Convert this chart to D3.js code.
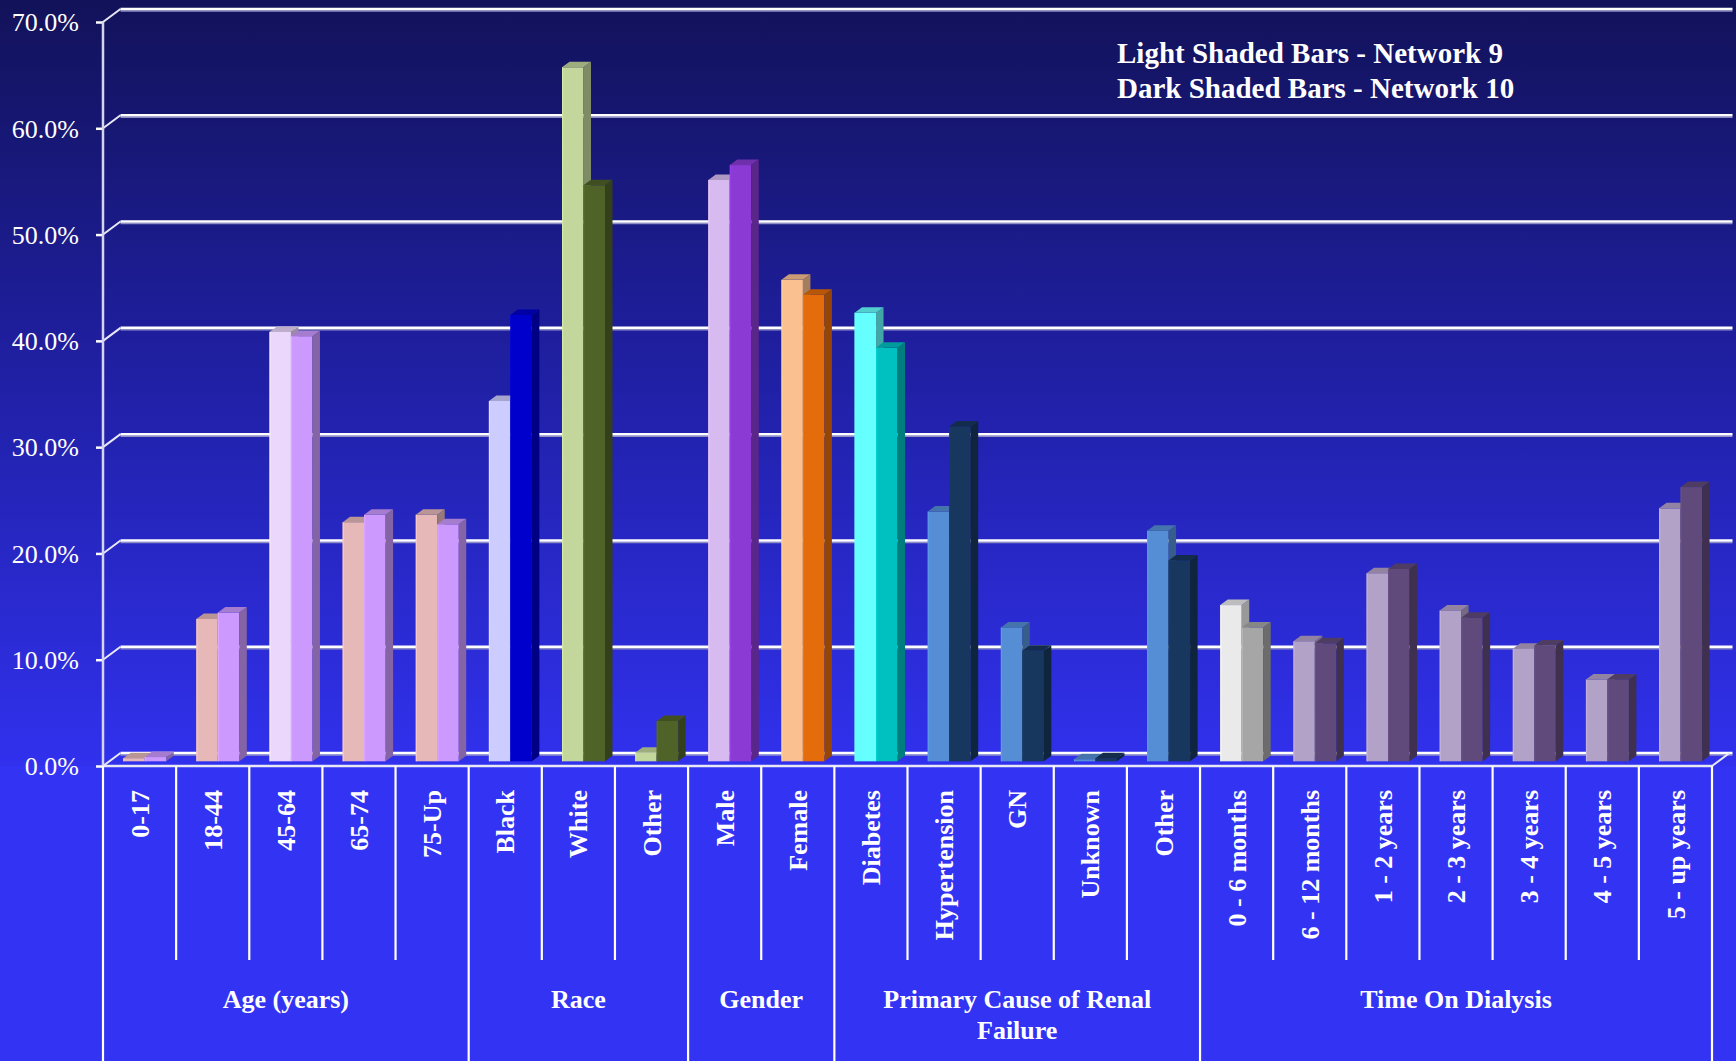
<!DOCTYPE html>
<html>
<head>
<meta charset="utf-8">
<script src="https://cdn.jsdelivr.net/npm/d3@7"></script>
<style>
  html, body { margin: 0; padding: 0; background: #3333f3; overflow: hidden; }
  svg { display: block; }
</style>
</head>
<body>
<svg id="chart" width="1736" height="1061"></svg>
<script>
// ---- data ----
const categories = ["0-17", "18-44", "45-64", "65-74", "75-Up",
  "Black", "White", "Other",
  "Male", "Female",
  "Diabetes", "Hypertension", "GN", "Unknown", "Other",
  "0 - 6 months", "6 - 12 months", "1 - 2 years", "2 - 3 years", "3 - 4 years", "4 - 5 years", "5 - up years"];

// Light shaded bars (Network 9), percent
const network9 = [0.3, 13.4, 40.4, 22.5, 23.2,
  33.9, 65.3, 0.8,
  54.7, 45.3,
  42.2, 23.5, 12.6, 0.2, 21.7,
  14.7, 11.3, 17.7, 14.2, 10.6, 7.7, 23.8];

// Dark shaded bars (Network 10), percent
const network10 = [0.4, 14.0, 40.0, 23.2, 22.3,
  42.0, 54.2, 3.8,
  56.1, 43.9,
  38.9, 31.5, 10.4, 0.3, 18.9,
  12.6, 11.1, 18.1, 13.5, 10.9, 7.7, 25.8];

const groupLabels = [["Age (years)"], ["Race"], ["Gender"], ["Primary Cause of Renal", "Failure"], ["Time On Dialysis"]];
const groupSizes = [5, 3, 2, 5, 7];

const yTicks = [0, 10, 20, 30, 40, 50, 60, 70];

const lightColors = ["#E6B9B8", "#E6B9B8", "#EBD7FC", "#E6B9B8", "#E6B9B8",
  "#CCCCFF", "#C3D69B", "#C3D69B",
  "#D7BBF0", "#FAC090",
  "#66FFFF", "#558ED5", "#558ED5", "#558ED5", "#558ED5",
  "#EAEAEA", "#B3A2C7", "#B3A2C7", "#B3A2C7", "#B3A2C7", "#B3A2C7", "#B3A2C7"];
const darkColors = ["#CC99FF", "#CC99FF", "#CC99FF", "#CC99FF", "#CC99FF",
  "#0000CC", "#4F6228", "#4F6228",
  "#8B3BD4", "#E46C0A",
  "#00C0C0", "#17375E", "#17375E", "#17375E", "#17375E",
  "#A6A6A6", "#604A7B", "#604A7B", "#604A7B", "#604A7B", "#604A7B", "#604A7B"];

const legendLines = ["Light Shaded Bars - Network 9", "Dark Shaded Bars - Network 10"];

// ---- layout ----
const W = 1736, H = 1061;
const left = 103, right = 1712;
const floorY = 766, topY = 22;
const DX = 17.5, DY = -13;          // depth of the back wall
const barDepthShift = 0.36;          // bars sit partway into the depth
const topDX = 7.5, topDY = -5.5;     // bar top/side depth
const minorBottom = 960;
const serif = "'Liberation Serif', 'Times New Roman', serif";

const svg = d3.select("#chart");

const x = d3.scaleBand().domain(d3.range(categories.length)).range([left, right]).padding(0);
const y = d3.scaleLinear().domain([0, 70]).range([floorY, topY]);

// background gradient
const defs = svg.append("defs");
const grad = defs.append("linearGradient").attr("id", "bg")
  .attr("gradientUnits", "userSpaceOnUse").attr("x1", 0).attr("y1", 0).attr("x2", 0).attr("y2", floorY);
grad.append("stop").attr("offset", 0).attr("stop-color", "#12125A");
grad.append("stop").attr("offset", 0.5).attr("stop-color", "#2020A6");
grad.append("stop").attr("offset", 1).attr("stop-color", "#3131EE");
svg.append("rect").attr("width", W).attr("height", floorY).attr("fill", "url(#bg)");
svg.append("rect").attr("y", floorY).attr("width", W).attr("height", H - floorY).attr("fill", "#3333F3");

// back wall gridlines
const grid = svg.append("g");
yTicks.forEach(t => {
  const gy = y(t) + DY;
  grid.append("line").attr("x1", left + DX).attr("x2", right + DX + 3)
    .attr("y1", gy + 2).attr("y2", gy + 2).attr("stroke", "#8f8fc8").attr("stroke-width", 1.5);
  grid.append("line").attr("x1", left + DX).attr("x2", right + DX + 3)
    .attr("y1", gy).attr("y2", gy).attr("stroke", "#ffffff").attr("stroke-width", 2.5);
  // side wall diagonal
  grid.append("line").attr("x1", left).attr("y1", y(t)).attr("x2", left + DX).attr("y2", gy)
    .attr("stroke", "#e8e8f4").attr("stroke-width", 2);
});

// floor edges
svg.append("line").attr("x1", right).attr("y1", floorY).attr("x2", right + DX).attr("y2", floorY + DY)
  .attr("stroke", "#e8e8f4").attr("stroke-width", 2);

// y axis
const yAxis = d3.axisLeft(y).tickValues(yTicks).tickSize(7).tickPadding(17)
  .tickFormat(d => d.toFixed(1) + "%");
const ay = svg.append("g").attr("transform", `translate(${left},0)`).call(yAxis);
ay.select(".domain").remove();
ay.selectAll(".tick line").attr("stroke", "#ffffff").attr("stroke-width", 2.5);
ay.selectAll(".tick text").attr("fill", "#ffffff").attr("font-family", serif)
  .attr("font-size", 26).attr("dy", "0.34em");
svg.append("line").attr("x1", left).attr("x2", left).attr("y1", topY).attr("y2", floorY)
  .attr("stroke", "#d4d4ec").attr("stroke-width", 2.5);

// bars
const bw = x.bandwidth();
const barOffset = bw * 0.276;
const barW = bw * 0.294;
const shiftY = DY * barDepthShift;

function drawBar(g, bx, value, color) {
  const yb = y(0) + shiftY;
  const yt = y(value) + shiftY;
  const c = d3.rgb(color);
  g.append("rect").attr("x", bx).attr("y", yt).attr("width", barW).attr("height", yb - yt)
    .attr("fill", c.formatHex());
  g.append("line").attr("x1", bx + 0.6).attr("x2", bx + 0.6).attr("y1", yt).attr("y2", yb)
    .attr("stroke", c.brighter(0.35).formatHex()).attr("stroke-width", 1.2).attr("opacity", 0.7);
  g.append("polygon").attr("points", [
    [bx + barW, yb], [bx + barW + topDX, yb + topDY], [bx + barW + topDX, yt + topDY], [bx + barW, yt]
  ].map(p => p.join(",")).join(" ")).attr("fill", c.darker(1.2).formatHex());
  g.append("polygon").attr("points", [
    [bx, yt], [bx + topDX, yt + topDY], [bx + barW + topDX, yt + topDY], [bx + barW, yt]
  ].map(p => p.join(",")).join(" ")).attr("fill", c.darker(0.6).formatHex());
}

const bars = svg.append("g");
categories.forEach((cat, i) => {
  const g = bars.append("g");
  const bx = x(i) + barOffset;
  drawBar(g, bx, network9[i], lightColors[i]);
  drawBar(g, bx + barW, network10[i], darkColors[i]);
});

// floor front edge
svg.append("line").attr("x1", left).attr("x2", right).attr("y1", floorY).attr("y2", floorY)
  .attr("stroke", "#e8e8f4").attr("stroke-width", 2.5);

// category dividers
const groupEnds = d3.cumsum(groupSizes);
const dividers = svg.append("g");
d3.range(categories.length + 1).forEach(k => {
  const xx = k < categories.length ? x(k) : right;
  const full = k === 0 || groupEnds.includes(k);
  dividers.append("line").attr("x1", xx).attr("x2", xx).attr("y1", floorY)
    .attr("y2", full ? H : minorBottom).attr("stroke", "#ffffff").attr("stroke-width", 2.2);
});

// category labels
svg.append("g").selectAll("text").data(categories).join("text")
  .attr("transform", (d, i) => `translate(${x(i) + bw / 2},790) rotate(-90)`)
  .attr("text-anchor", "end").attr("dy", "0.35em")
  .attr("fill", "#ffffff").attr("font-family", serif).attr("font-weight", "bold").attr("font-size", 26)
  .text(d => d);

// group labels
let start = 0;
groupLabels.forEach((lines, gi) => {
  const gx0 = x(start);
  const end = start + groupSizes[gi];
  const gx1 = end < categories.length ? x(end) : right;
  const t = svg.append("text").attr("x", (gx0 + gx1) / 2).attr("y", 1008)
    .attr("text-anchor", "middle").attr("fill", "#ffffff").attr("font-family", serif)
    .attr("font-weight", "bold").attr("font-size", 26);
  lines.forEach((ln, li) => {
    t.append("tspan").attr("x", (gx0 + gx1) / 2).attr("dy", li === 0 ? 0 : 31).text(ln);
  });
  start = end;
});

// legend note
svg.append("g").selectAll("text").data(legendLines).join("text")
  .attr("x", 1117).attr("y", (d, i) => 63 + i * 35)
  .attr("fill", "#ffffff").attr("font-family", serif).attr("font-weight", "bold").attr("font-size", 29)
  .text(d => d);
</script>
</body>
</html>
